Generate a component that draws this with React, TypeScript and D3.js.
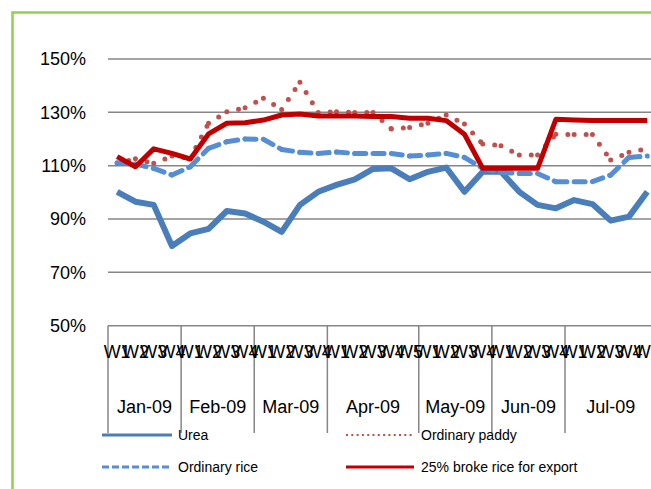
import React from 'react';
import * as d3 from 'd3';

const months = ['Jan-09', 'Feb-09', 'Mar-09', 'Apr-09', 'May-09', 'Jun-09', 'Jul-09'];
const weeksPerMonth = [4, 4, 4, 5, 4, 4, 5];
const weekLabels = weeksPerMonth.flatMap((n) => d3.range(1, n + 1).map((k) => `W${k}`));
const yTicks = [50, 70, 90, 110, 130, 150];

const urea = [100.2, 96.5, 95.3, 79.9, 84.6, 86.3, 93, 92.1, 89, 85.2, 95.3, 100.2, 102.8, 104.9, 108.8, 109, 104.9, 107.7, 109.3, 100.2, 107.7, 107.7, 100.2, 95.3, 94, 97.1, 95.6, 89.4, 90.9, 100.2];
const paddy = [110.9, 112.6, 110.9, 113.6, 112.8, 125.9, 130.2, 131.7, 135.3, 131.1, 141.3, 129.9, 130.2, 129.9, 129.9, 123.8, 124.3, 125.9, 129, 125.6, 118.1, 117.5, 114, 114, 121.8, 121.7, 121.7, 112.1, 115, 116.4];
const rice = [111.1, 110.6, 109, 106.5, 109.6, 116.5, 119, 120, 119.9, 116.1, 115, 114.6, 115.1, 114.6, 114.6, 114.6, 113.6, 114, 114.6, 113.1, 109, 107.5, 107.1, 107.1, 104, 104, 104, 106.5, 113.1, 113.6];
const broke = [113.4, 109.6, 116.3, 114.6, 112.5, 121.9, 125.9, 126.1, 127.1, 129, 129.4, 128.6, 128.6, 128.6, 128.4, 128.4, 127.8, 127.8, 126.9, 121.8, 109, 109, 109, 109, 127.4, 127.1, 126.9, 126.9, 126.9, 126.9];

const seriesNames = ['Urea', 'Ordinary paddy', 'Ordinary rice', '25% broke rice for export'];

const W = 651;
const H = 489;
const FONT = '"Liberation Sans", Arial, sans-serif';
const GRID = '#868686';

export default function App() {
  const n = weekLabels.length;
  const x = d3
    .scaleBand<number>()
    .domain(d3.range(n))
    .range([108, 108 + n * 18.28])
    .padding(0);
  const y = d3.scaleLinear().domain([50, 150]).range([325.7, 59]);
  const cx = (i: number) => (x(i) as number) + x.bandwidth() / 2;

  const fullLine = (arr: number[]) =>
    d3
      .line<number>()
      .x((_, i) => cx(i))
      .y((d) => y(d))(arr) as string;

  const segs = (arr: number[]) =>
    d3.pairs(d3.range(n)).map((p) =>
      d3
        .line<number>()
        .x((i) => cx(i))
        .y((i) => y(arr[i]))(p) as string
    );

  const starts = d3.cumsum([0, ...weeksPerMonth.slice(0, -1)]);
  const monthInfo = months.map((m, k) => {
    const s = starts[k];
    const e = s + weeksPerMonth[k] - 1;
    const left = x(s) as number;
    const right = (x(e) as number) + x.bandwidth();
    return { m, left, right };
  });

  const axisY = y(50);

  return (
    <div style={{ position: 'absolute', left: 0, top: 0, width: W, height: H, overflow: 'hidden', background: '#fff' }}>
      <svg width={W} height={H} style={{ display: 'block', fontFamily: FONT }}>
        <rect x={0} y={0} width={W} height={H} fill="#fff" />
        <rect x={12.5} y={12.5} width={W + 50} height={H + 50} fill="#fff" stroke="#92d050" strokeWidth={2.5} />

        {/* gridlines */}
        {yTicks.map((t) => (
          <line key={t} x1={108} x2={W + 10} y1={y(t)} y2={y(t)} stroke={GRID} strokeWidth={1.5} />
        ))}

        {/* y tick labels */}
        {yTicks.map((t) => (
          <text key={'l' + t} x={86} y={y(t) + 6.4} textAnchor="end" fontSize={18} fill="#000">
            {t}%
          </text>
        ))}

        {/* month separators */}
        {monthInfo.map((mi, k) => (
          <line key={'s' + k} x1={mi.left} x2={mi.left} y1={axisY} y2={433} stroke={GRID} strokeWidth={1.5} />
        ))}

        {/* week labels */}
        {weekLabels.map((w, i) => (
          <text key={'w' + i} x={cx(i)} y={357.5} textAnchor="middle" fontSize={18} fill="#000">
            {w}
          </text>
        ))}

        {/* month labels */}
        {monthInfo.map((mi, k) => (
          <text key={'m' + k} x={(mi.left + mi.right) / 2} y={413} textAnchor="middle" fontSize={18} fill="#000">
            {mi.m}
          </text>
        ))}

        {/* series */}
        <path d={fullLine(urea)} fill="none" stroke="#4a7ebb" strokeWidth={6} strokeLinejoin="round" />
        {segs(paddy).map((d, i) => (
          <path key={'p' + i} d={d} fill="none" stroke="#c0504d" strokeWidth={5} strokeLinecap="round" strokeDasharray="0 12" />
        ))}
        {segs(rice).map((d, i) => (
          <path key={'r' + i} d={d} fill="none" stroke="#558ed5" strokeWidth={5} strokeLinecap="round" strokeDasharray="11 7.3" />
        ))}
        <path d={fullLine(broke)} fill="none" stroke="#c00000" strokeWidth={5} strokeLinejoin="round" />

        {/* legend */}
        <g fontSize={14} fill="#000">
          <line x1={102} x2={172} y1={435} y2={435} stroke="#4a7ebb" strokeWidth={3} />
          <text x={178} y={440}>{seriesNames[0]}</text>
          <line x1={346} x2={414} y1={435} y2={435} stroke="#c0504d" strokeWidth={2} strokeDasharray="2 3.3" />
          <text x={421} y={440}>{seriesNames[1]}</text>
          <line x1={102} x2={172} y1={467} y2={467} stroke="#558ed5" strokeWidth={3} strokeDasharray="7 3" />
          <text x={178} y={472}>{seriesNames[2]}</text>
          <line x1={346} x2={414} y1={467} y2={467} stroke="#c00000" strokeWidth={3} />
          <text x={421} y={472}>{seriesNames[3]}</text>
        </g>
      </svg>
    </div>
  );
}
